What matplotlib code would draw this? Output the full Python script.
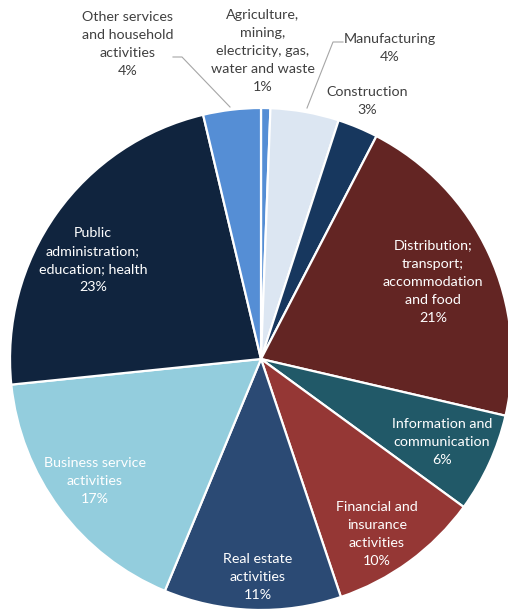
import matplotlib
matplotlib.use("Agg")
import matplotlib.pyplot as plt

# Share of output by industry (%), clockwise from the top
sectors = [
    "Agriculture,\nmining,\nelectricity, gas,\nwater and waste",
    "Manufacturing",
    "Construction",
    "Distribution;\ntransport;\naccommodation\nand food",
    "Information and\ncommunication",
    "Financial and\ninsurance\nactivities",
    "Real estate\nactivities",
    "Business service\nactivities",
    "Public\nadministration;\neducation; health",
    "Other services\nand household\nactivities",
]
shares = [0.6, 4.4, 2.6, 21.0, 6.4, 9.8, 11.4, 17.1, 22.9, 3.7]
colors = ["#558ED5", "#DCE6F2", "#17375E", "#632523", "#215968",
          "#953735", "#2B4A74", "#93CDDD", "#10243E", "#558ED5"]

W, H = 508, 613
fig = plt.figure(figsize=(W / 100, H / 100), dpi=100)
ax = fig.add_axes([0, 0, 1, 1])
plt.rcParams["font.family"] = ["Lato", "DejaVu Sans"]

cx, cy, r = 261, H - 359, 251
wedges, _ = ax.pie(shares, colors=colors, startangle=90, counterclock=False,
                   center=(cx, cy), radius=r,
                   wedgeprops=dict(edgecolor="white", linewidth=1.6))
ax.set_xlim(0, W)
ax.set_ylim(0, H)
ax.set_aspect("equal")
ax.axis("off")

total = sum(shares)
pct = [f"{v / total * 100:.0f}%" for v in shares]

# label anchor points (pixel coordinates from the top-left)
pos = [(263, 51), (390, 48), (367, 101), (433, 282), (442, 442),
       (377, 534), (258, 577), (95, 481), (93, 260), (128, 44)]
inside = [False, False, False, True, True, True, True, True, True, False]

for name, p, (x, y), ins in zip(sectors, pct, pos, inside):
    ax.text(x, H - y, f"{name}\n{p}", ha="center", va="center",
            fontsize=10.3, linespacing=1.62,
            color="white" if ins else "#404040")

# leader lines for the small outside slices
ax.plot([173, 182, 230], [H - 57, H - 57, H - 107], color="#A6A6A6", lw=0.8)
ax.plot([307, 333, 343], [H - 108, H - 42, H - 42], color="#A6A6A6", lw=0.8)

fig.savefig("out.png", dpi=100)
